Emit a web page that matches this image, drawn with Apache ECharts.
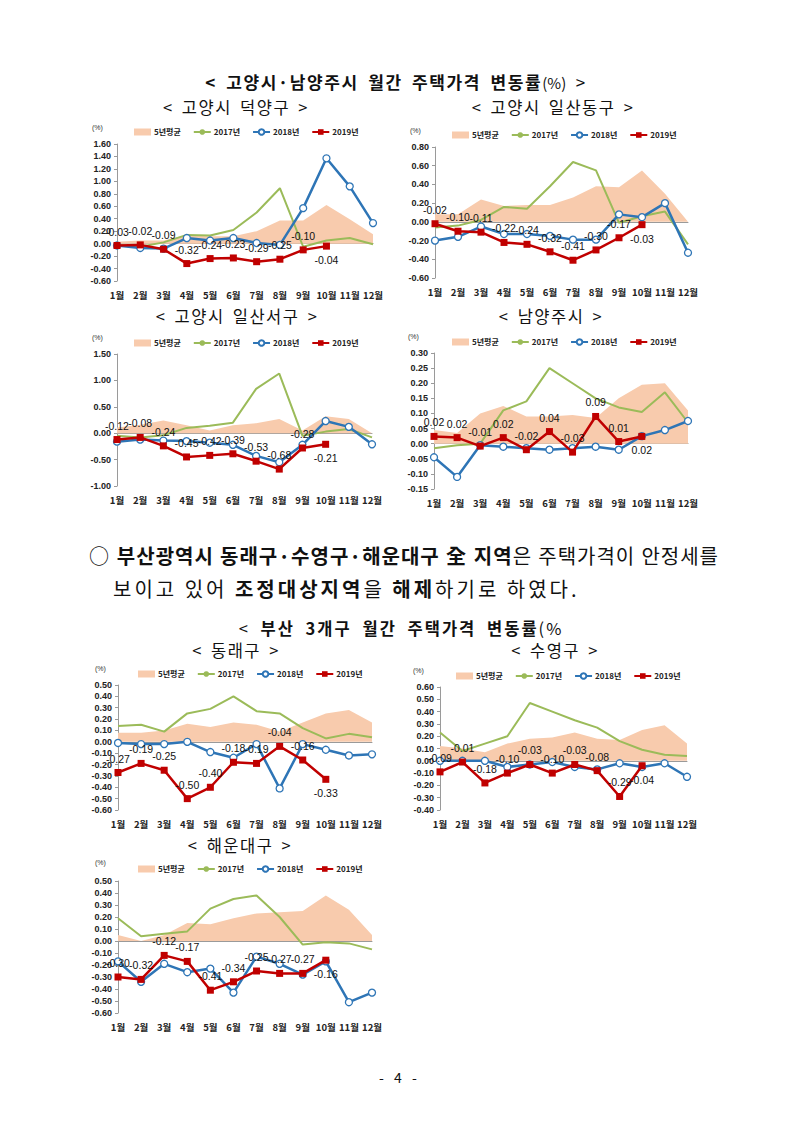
<!DOCTYPE html>
<html><head><meta charset="utf-8">
<script src="https://cdn.jsdelivr.net/npm/echarts/dist/echarts.min.js"></script>
<style>
html,body{margin:0;padding:0;background:#fff;}
#page{position:relative;width:793px;height:1121px;overflow:hidden;font-family:"Noto Sans CJK KR","Noto Sans",sans-serif;color:#111;}
#chart{position:absolute;left:0;top:0;width:793px;height:1121px;}
.t{position:absolute;white-space:nowrap;line-height:1;}
.c{transform:translateX(-50%);}
b{font-weight:700;}
.n{font-weight:400;}
.sub{font-size:16.5px;letter-spacing:1.5px;word-spacing:3px;}
</style>
</head><body>
<div id="page">
<div id="chart"></div>
<div class="t c" style="left:396px;top:73px;font-size:17px;font-weight:700;letter-spacing:1.6px;word-spacing:4px;">&lt; 고양시·남양주시 월간 주택가격 변동률<span class="n" style="font-size:15px;letter-spacing:0;">(%)</span> <span class="n">&gt;</span></div>
<div class="t c sub" style="left:236px;top:99px;">&lt; 고양시 덕양구 &gt;</div>
<div class="t c sub" style="left:553px;top:99px;">&lt; 고양시 일산동구 &gt;</div>
<div class="t c sub" style="left:237px;top:308px;">&lt; 고양시 일산서구 &gt;</div>
<div class="t c sub" style="left:551px;top:308px;">&lt; 남양주시 &gt;</div>
<div class="t" style="left:89px;top:546px;width:630px;font-size:20px;letter-spacing:1px;text-align:justify;text-align-last:justify;">○ <b>부산광역시 동래구·수영구·해운대구 全 지역</b>은 주택가격이 안정세를</div>
<div class="t" style="left:113px;top:579px;font-size:20px;letter-spacing:3px;">보이고 있어 <b>조정대상지역</b>을 <b>해제</b>하기로 하였다.</div>
<div class="t c" style="left:401px;top:620px;font-size:16.5px;letter-spacing:2px;word-spacing:5px;"><span class="n">&lt; </span><b>부산 3개구 월간 주택가격 변동률</b><span class="n">(%</span></div>
<div class="t c sub" style="left:236px;top:642px;">&lt; 동래구 &gt;</div>
<div class="t c sub" style="left:555px;top:642px;">&lt; 수영구 &gt;</div>
<div class="t c sub" style="left:240px;top:837px;">&lt; 해운대구 &gt;</div>
<div class="t c" style="left:398px;top:1070px;font-size:14px;word-spacing:7px;">- 4 -</div>
</div>
<script>
// ---- data ----
const months = ['1월','2월','3월','4월','5월','6월','7월','8월','9월','10월','11월','12월'];
const seriesNames = ['5년평균','2017년','2018년','2019년'];

// 고양시 덕양구
const deokyangAvg  = [0.03, 0.05, 0.05, 0.14, 0.12, 0.12, 0.20, 0.37, 0.37, 0.62, 0.39, 0.15];
const deokyang2017 = [-0.02, -0.05, 0.02, 0.14, 0.13, 0.22, 0.50, 0.89, -0.05, 0.05, 0.09, -0.01];
const deokyang2018 = [-0.03, -0.07, -0.08, 0.09, 0.05, 0.09, 0.01, -0.02, 0.57, 1.37, 0.92, 0.33];
const deokyang2019 = [-0.03, -0.02, -0.09, -0.32, -0.24, -0.23, -0.29, -0.25, -0.10, -0.04];

// 고양시 일산동구
const ilsandongAvg  = [0.08, 0.08, 0.24, 0.17, 0.18, 0.18, 0.26, 0.38, 0.37, 0.55, 0.30, 0.00];
const ilsandong2017 = [-0.06, -0.04, 0.02, 0.16, 0.14, 0.38, 0.64, 0.55, -0.01, 0.06, 0.11, -0.24];
const ilsandong2018 = [-0.20, -0.16, -0.05, -0.13, -0.13, -0.15, -0.19, -0.19, 0.08, 0.05, 0.20, -0.33];
const ilsandong2019 = [-0.02, -0.10, -0.11, -0.22, -0.24, -0.32, -0.41, -0.30, -0.17, -0.03];

// 고양시 일산서구
const ilsanseoAvg  = [0.11, 0.16, 0.24, 0.15, 0.05, 0.15, 0.19, 0.27, 0.05, 0.32, 0.27, 0.00];
const ilsanseo2017 = [-0.05, -0.08, -0.04, 0.10, 0.14, 0.20, 0.84, 1.13, -0.05, 0.03, 0.08, -0.08];
const ilsanseo2018 = [-0.16, -0.12, -0.14, -0.15, -0.18, -0.22, -0.43, -0.55, -0.22, 0.23, 0.12, -0.21];
const ilsanseo2019 = [-0.12, -0.08, -0.24, -0.45, -0.42, -0.39, -0.53, -0.68, -0.28, -0.21];

// 남양주시
const namyangjuAvg  = [0.045, 0.035, 0.10, 0.125, 0.09, 0.09, 0.095, 0.085, 0.15, 0.195, 0.20, 0.11];
const namyangju2017 = [-0.015, -0.005, 0.00, 0.11, 0.14, 0.25, 0.20, 0.15, 0.12, 0.105, 0.17, 0.07];
const namyangju2018 = [-0.045, -0.11, -0.005, -0.01, -0.015, -0.02, -0.015, -0.01, -0.02, 0.025, 0.045, 0.075];
const namyangju2019 = [0.024, 0.02, -0.008, 0.02, -0.02, 0.04, -0.028, 0.09, 0.007, 0.024];

// 동래구
const dongnaeAvg  = [0.08, 0.08, 0.10, 0.16, 0.13, 0.17, 0.15, 0.09, 0.17, 0.25, 0.28, 0.17];
const dongnae2017 = [0.14, 0.15, 0.09, 0.25, 0.29, 0.40, 0.27, 0.25, 0.12, 0.03, 0.07, 0.04];
const dongnae2018 = [-0.01, -0.02, -0.02, 0.00, -0.09, -0.14, -0.02, -0.41, -0.02, -0.07, -0.12, -0.11];
const dongnae2019 = [-0.27, -0.19, -0.25, -0.50, -0.40, -0.18, -0.19, -0.04, -0.16, -0.33];

// 수영구
const suyeongAvg  = [0.12, 0.10, 0.07, 0.14, 0.18, 0.19, 0.23, 0.18, 0.17, 0.25, 0.29, 0.14];
const suyeong2017 = [0.23, 0.08, 0.14, 0.20, 0.47, 0.40, 0.33, 0.27, 0.16, 0.09, 0.05, 0.04];
const suyeong2018 = [0.00, 0.00, 0.00, -0.05, -0.03, -0.01, -0.05, -0.07, -0.02, -0.05, -0.02, -0.13];
const suyeong2019 = [-0.09, -0.01, -0.18, -0.10, -0.03, -0.10, -0.03, -0.08, -0.29, -0.04];

// 해운대구
const haeundaeAvg  = [0.05, 0.00, 0.05, 0.15, 0.14, 0.19, 0.23, 0.24, 0.25, 0.38, 0.26, 0.05];
const haeundae2017 = [0.19, 0.04, 0.06, 0.08, 0.27, 0.35, 0.38, 0.20, -0.03, -0.01, -0.02, -0.07];
const haeundae2018 = [-0.17, -0.34, -0.19, -0.26, -0.23, -0.43, -0.13, -0.19, -0.28, -0.17, -0.51, -0.43];
const haeundae2019 = [-0.30, -0.32, -0.12, -0.17, -0.41, -0.34, -0.25, -0.27, -0.27, -0.16];

// ---- layout / style ----
const panels = [
  {d:[deokyangAvg,deokyang2017,deokyang2018,deokyang2019], min:-0.6, max:1.6, step:0.2, l:117, r:373, t:144, b:281, lgL:134, lgT:128, pct:[92,124]},
  {d:[ilsandongAvg,ilsandong2017,ilsandong2018,ilsandong2019], min:-0.6, max:0.8, step:0.2, l:435, r:688, t:147, b:278, lgL:452, lgT:131, pct:[410,127]},
  {d:[ilsanseoAvg,ilsanseo2017,ilsanseo2018,ilsanseo2019], min:-1.0, max:1.5, step:0.5, l:117, r:372, t:354, b:486, lgL:134, lgT:339, pct:[92,334]},
  {d:[namyangjuAvg,namyangju2017,namyangju2018,namyangju2019], min:-0.15, max:0.30, step:0.05, l:434, r:688, t:353, b:489, lgL:452, lgT:338, pct:[408,333]},
  {d:[dongnaeAvg,dongnae2017,dongnae2018,dongnae2019], min:-0.6, max:0.5, step:0.1, l:118, r:372, t:685, b:810, lgL:138, lgT:670, pct:[95,665]},
  {d:[suyeongAvg,suyeong2017,suyeong2018,suyeong2019], min:-0.4, max:0.6, step:0.1, l:440, r:687, t:687, b:810, lgL:456, lgT:672, pct:[413,667]},
  {d:[haeundaeAvg,haeundae2017,haeundae2018,haeundae2019], min:-0.6, max:0.5, step:0.1, l:118, r:372, t:881, b:1013, lgL:138, lgT:865, pct:[95,859]}
];
const colAvg = '#F8CBAD', col17 = '#9BBB59', col18 = '#2E75B6', col19 = '#C00000';
const labelPos19 = ['top','top','top','top','top','top','top','top','top','bottom'];
const axisFont = {fontFamily:'Liberation Sans, Arial, sans-serif', fontSize:9, fontWeight:'bold', color:'#222'};

const grid = [], xAxis = [], yAxis = [], series = [], legend = [], graphic = [];
panels.forEach((p, i) => {
  grid.push({left:p.l, top:p.t, width:p.r - p.l, height:p.b - p.t, containLabel:false});
  xAxis.push({type:'category', gridIndex:i, data:months, boundaryGap:false, position:'bottom',
    axisLine:{show:false, onZero:false}, axisTick:{show:false},
    axisLabel:{margin:9, interval:0, fontSize:9.5, fontFamily:'Noto Sans CJK KR, sans-serif', fontWeight:'bold', color:'#222'}});
  xAxis.push({type:'category', gridIndex:i, data:months, boundaryGap:false, position:'bottom',
    axisLine:{show:true, onZero:true, lineStyle:{color:'#9a9a9a', width:1}},
    axisTick:{show:false}, axisLabel:{show:false}});
  yAxis.push({type:'value', gridIndex:i, min:p.min, max:p.max, interval:p.step,
    axisLine:{show:true, lineStyle:{color:'#9a9a9a', width:1}},
    axisTick:{show:true, length:3, lineStyle:{color:'#9a9a9a'}},
    splitLine:{show:false},
    axisLabel:Object.assign({margin:6, formatter:v => v.toFixed(2)}, axisFont)});
  const xi = 2*i;
  series.push({name:seriesNames[0], type:'line', xAxisIndex:xi, yAxisIndex:i, data:p.d[0], symbol:'none',
    lineStyle:{width:0, color:colAvg}, itemStyle:{color:colAvg}, areaStyle:{color:colAvg, opacity:1}, z:1, silent:true});
  series.push({name:seriesNames[1], type:'line', xAxisIndex:xi, yAxisIndex:i, data:p.d[1], symbol:'none',
    lineStyle:{width:2, color:col17}, itemStyle:{color:col17}, z:2});
  series.push({name:seriesNames[2], type:'line', xAxisIndex:xi, yAxisIndex:i, data:p.d[2], symbol:'circle', symbolSize:7,
    lineStyle:{width:2.5, color:col18}, itemStyle:{color:'#ffffff', borderColor:col18, borderWidth:1.3}, z:3});
  series.push({name:seriesNames[3], type:'line', xAxisIndex:xi, yAxisIndex:i,
    data:p.d[3].map((v, k) => ({value:v, label:{position:labelPos19[k]}})),
    symbol:'rect', symbolSize:7,
    lineStyle:{width:2.5, color:col19}, itemStyle:{color:col19}, z:4,
    label:{show:true, distance:5, fontSize:10.5, color:'#111', fontFamily:'Liberation Sans, Arial, sans-serif',
      formatter:pp => pp.value.toFixed(2)}});
  legend.push({left:p.lgL, top:p.lgT, itemWidth:17, itemHeight:7, itemGap:12, padding:0,
    textStyle:{fontSize:8, fontWeight:'bold', color:'#222', fontFamily:'Noto Sans CJK KR, sans-serif', padding:[0,0,0,-2]},
    data:[{name:seriesNames[0], icon:'rect'}, seriesNames[1], seriesNames[2], seriesNames[3]],
    selectedMode:false});
  graphic.push({type:'text', x:p.pct[0], y:p.pct[1], style:{text:'(%)', fontSize:7, fill:'#333', fontFamily:'Liberation Sans, Arial, sans-serif'}});
});

const chart = echarts.init(document.getElementById('chart'), null, {renderer:'svg'});
chart.setOption({animation:false, backgroundColor:'transparent', grid, xAxis, yAxis, series, legend, graphic});
</script>
</body></html>
